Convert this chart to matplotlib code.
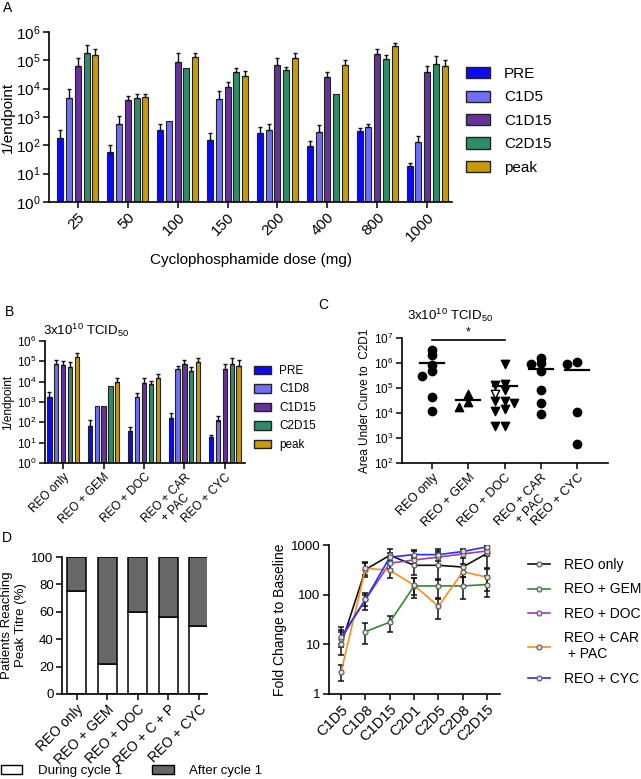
import numpy as np
import matplotlib.pyplot as plt
from matplotlib.patches import Patch
from matplotlib.lines import Line2D
from matplotlib.ticker import NullLocator, FixedLocator

plt.rcParams['font.family'] = ['Liberation Sans', 'DejaVu Sans']
plt.rcParams['mathtext.fontset'] = 'custom'
plt.rcParams['mathtext.rm'] = 'Liberation Sans'
plt.rcParams['mathtext.it'] = 'Liberation Sans:italic'
plt.rcParams['mathtext.bf'] = 'Liberation Sans:bold'

# ---- panel A: titres by cyclophosphamide dose ----
a_doses = ['25', '50', '100', '150', '200', '400', '800', '1000']
a_pre = [180, 55, 340, 150, 270, 92, 310, 18]
a_pre_hi = [340, 105, 550, 275, 450, 140, 420, 24]
a_c1d5 = [4800, 550, 700, 4200, 340, 295, 440, 130]
a_c1d5_hi = [10000, 1100, np.nan, 8300, 550, 540, 580, 210]
a_c1d15 = [62000, 3900, 87000, 11500, 67000, 25000, 170000, 39000]
a_c1d15_hi = [123000, 5500, 182000, 17400, 120000, 39000, 257000, 62000]
a_c2d15 = [180000, 4800, 55000, 38000, 44000, 6300, 115000, 76000]
a_c2d15_hi = [355000, 6600, np.nan, 54000, 60000, np.nan, 150000, 138000]
a_peak = [150000, 5100, 130000, 29000, 120000, 70000, 310000, 61000]
a_peak_hi = [257000, 6600, 182000, 42000, 182000, 105000, 407000, 105000]

# ---- panel B: titres by treatment arm ----
arms = ['REO only', 'REO + GEM', 'REO + DOC', 'REO + CAR\n+ PAC', 'REO + CYC']
b_pre = [1700, 67, 38, 160, 18]
b_pre_hi = [3200, 130, 56, 280, 25]
b_c1d8 = [78000, 660, 1700, 42000, 123]
b_c1d8_hi = [123000, np.nan, 2700, 57000, 210]
b_c1d15 = [65000, 660, 9000, 78000, 40000]
b_c1d15_hi = [100000, np.nan, 14500, 123000, 71000]
b_c2d15 = [54000, 6000, 7400, 34000, 78000]
b_c2d15_hi = [95000, np.nan, 10700, 54000, 148000]
b_peak = [155000, 10000, 16000, 95000, 60000]
b_peak_hi = [263000, 16000, 23400, 138000, 115000]

series_names_a = ['PRE', 'C1D5', 'C1D15', 'C2D15', 'peak']
series_names_b = ['PRE', 'C1D8', 'C1D15', 'C2D15', 'peak']
bar_colors = ['#0a0af5', '#6e6ef7', '#653399', '#2f8c67', '#c99a06']

# ---- panel C: area under curve to C2D1 ----
c_reo = [3.2e6, 2.0e6, 8.7e5, 4.7e5, 3.0e5, 4.3e4, 1.2e4]
c_gem = [5.6e4, 2.8e4, 1.8e4]
c_doc = [9.5e5, 1.4e5, 1.3e5, 8e4, 3e4, 3e4, 2.5e4, 1.5e4, 1.2e4, 3e3, 3e3]
c_doc_open = [6e4]
c_car = [1.6e6, 1.0e6, 9e5, 5e5, 8e4, 2.5e4, 9e3]
c_cyc = [1.1e6, 9e5, 1.1e4, 5.9e2]

# ---- panel D: when peak titre was reached ----
d_arms = ['REO only', 'REO + GEM', 'REO + DOC', 'REO + C + P', 'REO + CYC']
d_during = [75, 22, 60, 56, 50]

# ---- panel E: fold change to baseline ----
e_days = ['C1D5', 'C1D8', 'C1D15', 'C2D1', 'C2D5', 'C2D8', 'C2D15']
e_labels = ['REO only', 'REO + GEM', 'REO + DOC', 'REO + CAR\n + PAC', 'REO + CYC']
e_colors = ['#111111', '#2e8b2e', '#9a3ea8', '#ff8c1a', '#2b2bff']
e_reo = [10, 320, 620, 390, 390, 360, 680]
e_reo_lo = [6, 230, 420, 250, 200, 230, 350]
e_reo_hi = [22, 450, 850, 780, 820, 650, 1000]
e_gem = [np.nan, 18, 28, 150, 150, 150, 160]
e_gem_lo = [np.nan, 10, 18, 85, 85, 80, 90]
e_gem_hi = [np.nan, 27, 38, 220, 210, 230, 240]
e_doc = [13, 80, 430, 500, 570, 660, 760]
e_doc_lo = [9, 50, 330, 420, 480, 550, 600]
e_doc_hi = [18, 110, 560, 600, 680, 780, 950]
e_car = [2.8, 340, 310, 155, 58, 290, 225]
e_car_lo = [1.8, 250, 220, 100, 33, 150, 120]
e_car_hi = [3.9, 440, 420, 220, 80, 420, 330]
e_cyc = [14, 80, 570, 640, 640, 740, 920]
e_cyc_lo = [10, 60, 480, 560, 560, 650, 820]
e_cyc_hi = [19, 100, 680, 740, 740, 840, 1000]

W, H = 641, 779
fig = plt.figure(figsize=(W / 100, H / 100), dpi=100)


def px_axes(left, top, right, bottom):
    return fig.add_axes([left / W, 1 - bottom / H, (right - left) / W, (bottom - top) / H])


def style(ax, fs):
    for s in ['top', 'right']:
        ax.spines[s].set_visible(False)
    for s in ['left', 'bottom']:
        ax.spines[s].set_linewidth(1.2)
    ax.tick_params(width=1.1, length=4, labelsize=fs, pad=2)


def log_ticks(ax, lo, hi, fs):
    ax.set_yscale('log')
    ax.set_ylim(10 ** lo, 10 ** hi)
    ax.yaxis.set_major_locator(FixedLocator([10 ** k for k in range(lo, hi + 1)]))
    ax.set_yticklabels([f'10$^{{{k}}}$' for k in range(lo, hi + 1)], fontsize=fs)
    ax.yaxis.set_minor_locator(NullLocator())


def grouped_bars(ax, vals, highs, pitch, width):
    n = len(vals[0])
    for i, (v, hi) in enumerate(zip(vals, highs)):
        x = np.arange(n) + (i - 2) * pitch
        v = np.asarray(v, float)
        hi = np.asarray(hi, float)
        ax.bar(x, v, width=width, bottom=1, color=bar_colors[i], edgecolor='#222222', linewidth=0.8, zorder=2)
        up = np.where(np.isnan(hi), 0, hi - v)
        ok = ~np.isnan(hi)
        ax.errorbar(x[ok], v[ok], yerr=[np.zeros(ok.sum()), up[ok]], fmt='none',
                    ecolor='#111111', elinewidth=1.0, capsize=1.6, capthick=1.0, zorder=3)


# Panel A
ax = px_axes(49, 32, 452, 202)
style(ax, 11)
log_ticks(ax, 0, 6, 11)
grouped_bars(ax, [a_pre, a_c1d5, a_c1d15, a_c2d15, a_peak],
             [a_pre_hi, a_c1d5_hi, a_c1d15_hi, a_c2d15_hi, a_peak_hi], 0.175, 0.12)
ax.set_xlim(-0.58, 7.5)
ax.set_xticks(range(len(a_doses)))
ax.set_xticklabels(a_doses, rotation=45, ha='right', rotation_mode='anchor', fontsize=11)
ax.set_ylabel('1/endpoint', fontsize=11, labelpad=1)
ax.set_xlabel('Cyclophosphamide dose (mg)', fontsize=11, labelpad=6)
handles = [Patch(facecolor=c, edgecolor='#222222', linewidth=1) for c in bar_colors]
fig.legend(handles, series_names_a, loc='upper left', bbox_to_anchor=(466 / W, 1 - 67 / H),
           frameon=False, fontsize=11, handlelength=1.55, handleheight=0.75,
           handletextpad=0.95, labelspacing=0.62, borderpad=0, borderaxespad=0)
fig.text(3 / W, 1 - 8 / H, 'A', fontsize=10, va='center')

# Panel B
ax = px_axes(45, 341, 245, 463)
style(ax, 8.5)
log_ticks(ax, 0, 6, 8.5)
grouped_bars(ax, [b_pre, b_c1d8, b_c1d15, b_c2d15, b_peak],
             [b_pre_hi, b_c1d8_hi, b_c1d15_hi, b_c2d15_hi, b_peak_hi], 0.17, 0.105)
ax.set_xlim(-0.45, 4.5)
ax.set_xticks(range(len(arms)))
ax.set_xticklabels(arms, rotation=45, ha='right', rotation_mode='anchor', fontsize=8.5,
                   multialignment='center')
ax.set_ylabel('1/endpoint', fontsize=8.5, labelpad=2)
fig.text(86 / W, 1 - 330 / H, '3x10$^{10}$ TCID$_{50}$', fontsize=9.5, ha='center', va='center')
fig.legend(handles, series_names_b, loc='upper left', bbox_to_anchor=(254 / W, 1 - 365 / H),
           frameon=False, fontsize=8.5, handlelength=1.45, handleheight=0.75,
           handletextpad=0.7, labelspacing=0.55, borderpad=0, borderaxespad=0)
fig.text(5 / W, 1 - 312 / H, 'B', fontsize=10, va='center')


# Panel C
def swarm(vals, step=0.27, tol=0.2):
    logs = np.log10(vals)
    placed, xs = [], []
    for v in logs:
        for off in [0, -step, step, -2 * step, 2 * step]:
            if all(abs(off - o) > step * 0.9 or abs(v - pv) > tol for o, pv in placed):
                break
        placed.append((off, v))
        xs.append(off)
    return np.array(xs)


ax = px_axes(402, 338, 608, 463)
style(ax, 8.5)
log_ticks(ax, 2, 7, 8.5)
groups = [c_reo, c_gem, c_doc, c_car, c_cyc]
markers = ['o', '^', 'v', 'o', 'o']
for i, (g, m) in enumerate(zip(groups, markers)):
    g_all = g + c_doc_open if i == 2 else g
    xs = swarm(g_all)
    n = len(g)
    ax.scatter(i + xs[:n], g, marker=m, s=36, color='black', zorder=3, clip_on=False)
    if i == 2:
        ax.scatter(i + xs[n:], c_doc_open, marker='v', s=36, facecolor='white', edgecolor='black',
                   linewidth=1, zorder=3)
    ax.plot([i - 0.33, i + 0.33], [np.mean(g_all)] * 2, color='black', lw=1.6, zorder=4)
ax.set_xlim(-0.83, 4.85)
ax.set_xticks(range(len(arms)))
ax.set_xticklabels(arms, rotation=45, ha='right', rotation_mode='anchor', fontsize=9,
                   multialignment='center')
ax.set_ylabel('Area Under Curve to  C2D1', fontsize=8.5, labelpad=2)
ax.plot([0, 2], [8.5e6, 8.5e6], color='black', lw=1.2, clip_on=False)
ax.text(1, 1.0e7, '*', ha='center', va='bottom', fontsize=9)
fig.text(450 / W, 1 - 315 / H, '3x10$^{10}$ TCID$_{50}$', fontsize=9.5, ha='center', va='center')
fig.text(318 / W, 1 - 305 / H, 'C', fontsize=10, va='center')

# Panel D
ax = px_axes(62, 557, 207, 694)
style(ax, 9.5)
d_after = [100 - v for v in d_during]
x = np.arange(len(d_arms))
ax.bar(x, d_during, width=0.62, color='white', edgecolor='black', linewidth=1.1)
ax.bar(x, d_after, bottom=d_during, width=0.62, color='#676767', edgecolor='black', linewidth=1.1)
ax.set_ylim(0, 100)
ax.set_yticks(range(0, 101, 20))
ax.set_xlim(-0.48, 4.27)
ax.set_xticks(x)
ax.set_xticklabels(d_arms, rotation=45, ha='right', rotation_mode='anchor', fontsize=10)
ax.set_ylabel('Patients Reaching\nPeak Titre (%)', fontsize=9.5, labelpad=3)
fig.legend([Patch(facecolor='white', edgecolor='black'), Patch(facecolor='#676767', edgecolor='black')],
           ['During cycle 1', 'After cycle 1'], loc='center left', bbox_to_anchor=(1 / W, 1 - 771 / H),
           ncol=2, frameon=False, fontsize=9.5, handlelength=1.6, handleheight=0.7,
           handletextpad=1.2, columnspacing=2.3, borderpad=0, borderaxespad=0)
fig.text(2 / W, 1 - 538 / H, 'D', fontsize=10, va='center')

# Panel E
ax = px_axes(329, 545, 500, 694)
style(ax, 9.5)
ax.set_yscale('log')
ax.set_ylim(1, 1000)
ax.yaxis.set_major_locator(FixedLocator([1, 10, 100, 1000]))
ax.set_yticklabels(['1', '10', '100', '1000'], fontsize=9.5)
ax.yaxis.set_minor_locator(NullLocator())
xe = np.arange(len(e_days))
e_sets = [(e_reo, e_reo_lo, e_reo_hi), (e_gem, e_gem_lo, e_gem_hi), (e_doc, e_doc_lo, e_doc_hi),
          (e_car, e_car_lo, e_car_hi), (e_cyc, e_cyc_lo, e_cyc_hi)]
for (v, lo, hi), col in zip(e_sets, e_colors):
    v, lo, hi = (np.asarray(a, float) for a in (v, lo, hi))
    ax.errorbar(xe, v, yerr=[v - lo, hi - v], fmt='none', ecolor='#111111', elinewidth=1.1,
                capsize=2.2, capthick=1.1, zorder=2)
for (v, lo, hi), col in zip(e_sets, e_colors):
    ax.plot(xe, v, color=col, lw=1.2, marker='o', ms=3.6, mfc='#dddddd', mec='#555555', mew=0.8, zorder=3)
ax.set_xlim(-0.5, 6.53)
ax.set_xticks(xe)
ax.set_xticklabels(e_days, rotation=45, ha='right', rotation_mode='anchor', fontsize=10.5)
ax.set_ylabel('Fold Change to Baseline', fontsize=10, labelpad=3)
e_handles = [Line2D([], [], color=c, lw=1.2, marker='o', ms=3.6, mfc='#dddddd', mec='#555555', mew=0.8)
             for c in e_colors]
fig.legend(e_handles, e_labels, loc='upper left', bbox_to_anchor=(528 / W, 1 - 558 / H),
           frameon=False, fontsize=10, handlelength=1.6, handletextpad=1.0, labelspacing=0.75,
           borderpad=0, borderaxespad=0)

fig.savefig('out.png', dpi=100)
